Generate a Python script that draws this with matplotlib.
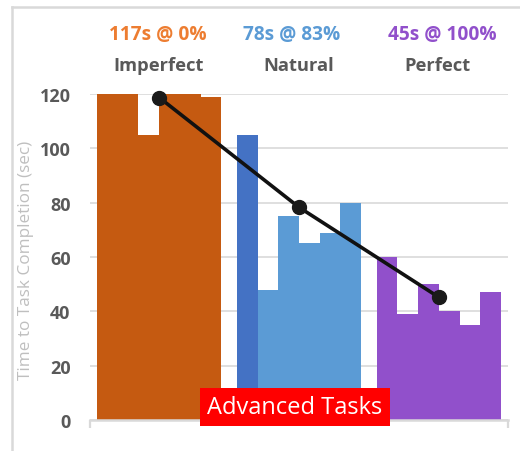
import numpy as np
import matplotlib.pyplot as plt
from matplotlib.lines import Line2D

plt.rcParams['font.family'] = ['Open Sans', 'DejaVu Sans']

# data
groups = ['Imperfect', 'Natural', 'Perfect']
headlines = ['117s @ 0%', '78s @ 83%', '45s @ 100%']
imperfect_times = [120, 120, 105, 120, 120, 119]
natural_times = [105, 48, 75, 65, 69, 80]
perfect_times = [60, 39, 50, 40, 35, 47]
mean_times = [118.7, 78.3, 45.2]
y_ticks = [0, 20, 40, 60, 80, 100, 120]

bar_colors = [
    ['#C55A11'] * 6,
    ['#4472C4'] + ['#5B9BD5'] * 5,
    ['#9150CB'] * 6,
]
head_colors = ['#ED7D31', '#5B9BD5', '#9150CB']

group_step = 6.75
series = [imperfect_times, natural_times, perfect_times]

fig = plt.figure(figsize=(5.2, 4.52), dpi=100)
ax = fig.add_axes([90 / 520, 1 - 421 / 452, 418 / 520, 326 / 452])

centers = []
for g, vals in enumerate(series):
    xs = g * group_step + np.arange(len(vals))
    ax.bar(xs, vals, width=1.0, color=bar_colors[g], linewidth=0, zorder=2)
    centers.append(xs.mean())

ax.plot(centers, mean_times, color='#111111', lw=2.6, marker='o', ms=10,
        markerfacecolor='#1a1a1a', markeredgecolor='#1a1a1a', zorder=4,
        clip_on=False)

x_left = -0.5 - 0.34
x_right = 2 * group_step + 5.5 + 0.34
ax.set_xlim(x_left, x_right)
ax.set_ylim(0, 120)
ax.set_yticks(y_ticks)
ax.set_yticklabels([str(t) for t in y_ticks], fontsize=13, fontweight='bold',
                   color='#595959')
ax.tick_params(axis='y', length=0, pad=14)
ax.set_xticks([x_left, x_right])
ax.set_xticklabels([])
ax.tick_params(axis='x', length=6, width=1.6, color='#D9D9D9', direction='out')
ax.grid(axis='y', color='#D9D9D9', lw=1.2, zorder=0)
ax.set_axisbelow(True)
for s in ['top', 'right', 'left']:
    ax.spines[s].set_visible(False)
ax.spines['bottom'].set_color('#D9D9D9')
ax.spines['bottom'].set_linewidth(1.8)
ax.spines['bottom'].set_zorder(3)

# group headers above plot
head_x = [158, 292, 442]
name_x = [159, 299, 437]
for g in range(3):
    fig.text(head_x[g] / 520, 1 - 35 / 452, headlines[g], ha='center',
             va='center', fontsize=13.8, fontweight='bold',
             color=head_colors[g])
    fig.text(name_x[g] / 520, 1 - 66 / 452, groups[g], ha='center',
             va='center', fontsize=13.2, fontweight='bold', color='#595959')

fig.text(26 / 520, 1 - 260 / 452, 'Time to Task Completion (sec)',
         rotation=90, ha='center', va='center', fontsize=12.3, color='#BFBFBF')

fig.text(295 / 520, 1 - 408 / 452, 'Advanced Tasks', ha='center', va='center',
         fontsize=17, color='white',
         bbox=dict(boxstyle='square,pad=0.3', facecolor='#FF0000',
                   edgecolor='none'), zorder=5)

# light frame (left and top edges visible)
fig.add_artist(Line2D([12 / 520, 12 / 520], [0, 1 - 8 / 452],
                      color='#D9D9D9', lw=1.8))
fig.add_artist(Line2D([12 / 520, 1], [1 - 8 / 452, 1 - 8 / 452],
                      color='#D9D9D9', lw=1.8))

plt.savefig('out.png', dpi=100)
